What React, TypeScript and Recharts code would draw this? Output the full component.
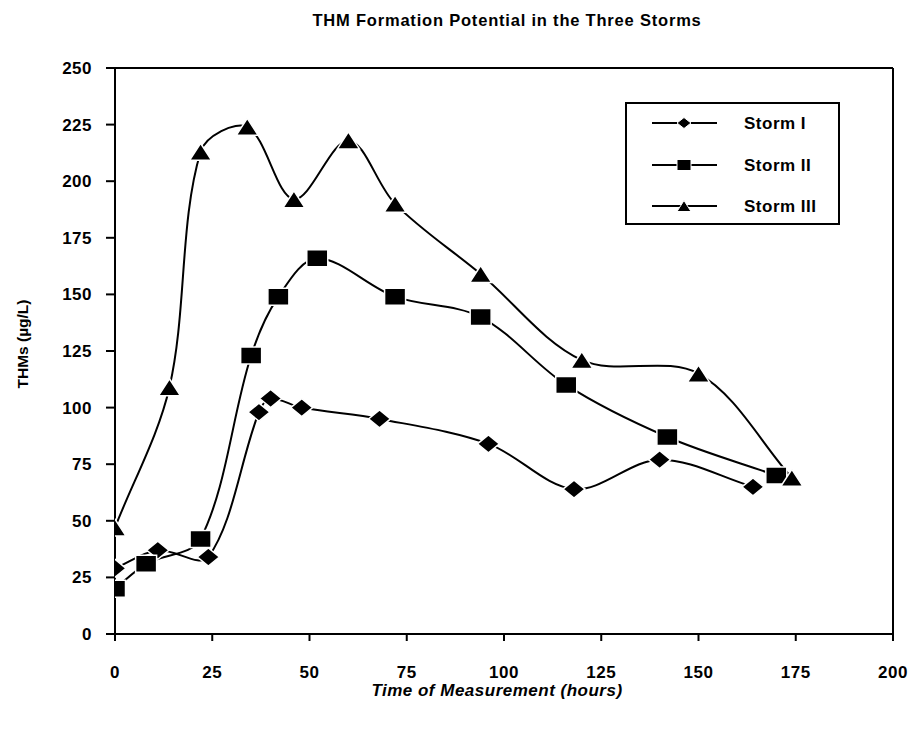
import React from 'react';
import { LineChart, Line, XAxis, YAxis, ReferenceLine } from 'recharts';

const xTicks = [0, 25, 50, 75, 100, 125, 150, 175, 200];
const yTicks = [0, 25, 50, 75, 100, 125, 150, 175, 200, 225, 250];

const storm1X = [0, 11, 24, 37, 40, 48, 68, 96, 118, 140, 164];
const storm1Y = [29, 37, 34, 98, 104, 100, 95, 84, 64, 77, 65];

const storm2X = [0, 8, 22, 35, 42, 52, 72, 94, 116, 142, 170];
const storm2Y = [20, 31, 42, 123, 149, 166, 149, 140, 110, 87, 70];

const storm3X = [0, 14, 22, 34, 46, 60, 72, 94, 120, 150, 174];
const storm3Y = [47, 109, 213, 224, 192, 218, 190, 159, 121, 115, 69];

const seriesNames = ['Storm I', 'Storm II', 'Storm III'];

const zip = (xs: number[], ys: number[]) => xs.map((x, i) => ({ x, y: ys[i] }));
const storm1 = zip(storm1X, storm1Y);
const storm2 = zip(storm2X, storm2Y);
const storm3 = zip(storm3X, storm3Y);

const FONT = '"Liberation Sans", Arial, Helvetica, sans-serif';

// Chord-length weighted smoothing (Excel-like smoothed line, little overshoot)
function smoothCurve(context: any) {
  let pts: number[][] = [];
  const dist = (a: number[], b: number[]) => Math.hypot(b[0] - a[0], b[1] - a[1]) || 1e-6;
  return {
    areaStart() {},
    areaEnd() {},
    lineStart() {
      pts = [];
    },
    point(x: number, y: number) {
      pts.push([+x, +y]);
    },
    lineEnd() {
      const n = pts.length;
      if (n === 0) return;
      context.moveTo(pts[0][0], pts[0][1]);
      if (n === 1) return;
      for (let i = 0; i < n - 1; i++) {
        const p1 = pts[i];
        const p2 = pts[i + 1];
        const p0 = pts[i - 1];
        const p3 = pts[i + 2];
        const d12 = dist(p1, p2);
        let c1x = p1[0] + (p2[0] - p1[0]) / 3;
        let c1y = p1[1] + (p2[1] - p1[1]) / 3;
        if (p0) {
          const d01 = dist(p0, p1);
          const f = d12 / (d01 + d12) / 1.5;
          c1x = p1[0] + (p2[0] - p0[0]) * f / 2;
          c1y = p1[1] + (p2[1] - p0[1]) * f / 2;
        }
        let c2x = p2[0] - (p2[0] - p1[0]) / 3;
        let c2y = p2[1] - (p2[1] - p1[1]) / 3;
        if (p3) {
          const d23 = dist(p2, p3);
          const f = d12 / (d12 + d23) / 1.5;
          c2x = p2[0] - (p3[0] - p1[0]) * f / 2;
          c2y = p2[1] - (p3[1] - p1[1]) * f / 2;
        }
        context.bezierCurveTo(c1x, c1y, c2x, c2y, p2[0], p2[1]);
      }
    },
  };
}

type Shape = 'diamond' | 'square' | 'triangle';

function markerPath(shape: Shape, cx: number, cy: number, w: number, h: number) {
  const hw = w / 2;
  const hh = h / 2;
  if (shape === 'diamond') {
    return `M${cx},${cy - hh}L${cx + hw},${cy}L${cx},${cy + hh}L${cx - hw},${cy}Z`;
  }
  if (shape === 'square') {
    return `M${cx - hw},${cy - hh}L${cx + hw},${cy - hh}L${cx + hw},${cy + hh}L${cx - hw},${cy + hh}Z`;
  }
  return `M${cx},${cy - hh}L${cx + hw},${cy + hh}L${cx - hw},${cy + hh}Z`;
}

const makeDot = (shape: Shape, w: number, h: number) => (props: any) => {
  const { cx, cy, index } = props;
  if (cx == null || cy == null) return <g key={index} />;
  return (
    <path
      key={index}
      d={markerPath(shape, cx, cy, w, h)}
      fill="#000"
      stroke="#fff"
      strokeWidth={1.5}
    />
  );
};

const tickStyle = { fontFamily: FONT, fontWeight: 700, fontSize: 17, fill: '#000', letterSpacing: 0.5 };

export default function App() {
  const legendRows: { name: string; shape: Shape; y: number }[] = [
    { name: seriesNames[0], shape: 'diamond', y: 123 },
    { name: seriesNames[1], shape: 'square', y: 165 },
    { name: seriesNames[2], shape: 'triangle', y: 206 },
  ];
  return (
    <div style={{ position: 'absolute', left: 0, top: 0, width: 916, height: 730, background: '#fff' }}>
      <LineChart
        width={916}
        height={730}
        margin={{ top: 68, right: 23, bottom: 66, left: 55 }}
      >
        <XAxis
          type="number"
          dataKey="x"
          domain={[0, 200]}
          ticks={xTicks}
          allowDataOverflow
          height={30}
          axisLine={{ stroke: '#000', strokeWidth: 2 }}
          tickLine={{ stroke: '#000', strokeWidth: 2 }}
          tickSize={7}
          tickMargin={25}
          tick={tickStyle}
        />
        <YAxis
          type="number"
          dataKey="y"
          domain={[0, 250]}
          ticks={yTicks}
          allowDataOverflow
          width={60}
          axisLine={{ stroke: '#000', strokeWidth: 2 }}
          tickLine={{ stroke: '#000', strokeWidth: 2 }}
          tickSize={9}
          tickMargin={14}
          tick={tickStyle}
        />
        <ReferenceLine y={250} stroke="#000" strokeWidth={2} />
        <ReferenceLine x={200} stroke="#000" strokeWidth={2} />
        <Line
          data={storm1}
          dataKey="y"
          name={seriesNames[0]}
          type={smoothCurve as any}
          stroke="#000"
          strokeWidth={2}
          dot={makeDot('diamond', 22, 18)}
          activeDot={false}
          isAnimationActive={false}
        />
        <Line
          data={storm2}
          dataKey="y"
          name={seriesNames[1]}
          type={smoothCurve as any}
          stroke="#000"
          strokeWidth={2}
          dot={makeDot('square', 21, 17)}
          activeDot={false}
          isAnimationActive={false}
        />
        <Line
          data={storm3}
          dataKey="y"
          name={seriesNames[2]}
          type={smoothCurve as any}
          stroke="#000"
          strokeWidth={2}
          dot={makeDot('triangle', 22, 17)}
          activeDot={false}
          isAnimationActive={false}
        />
      </LineChart>
      <svg
        width={916}
        height={730}
        style={{ position: 'absolute', left: 0, top: 0, pointerEvents: 'none' }}
      >
        <text
          x={507}
          y={26}
          textAnchor="middle"
          fontFamily={FONT}
          fontWeight={700}
          fontSize={16.5}
          letterSpacing={0.8}
        >
          THM Formation Potential in the Three Storms
        </text>
        <text
          x={497}
          y={696}
          textAnchor="middle"
          fontFamily={FONT}
          fontWeight={700}
          fontStyle="italic"
          fontSize={17}
          letterSpacing={0.5}
        >
          Time of Measurement (hours)
        </text>
        <text
          x={28}
          y={344}
          textAnchor="middle"
          fontFamily={FONT}
          fontWeight={700}
          fontSize={15.5}
          transform="rotate(-90 28 344)"
        >
          THMs (µg/L)
        </text>
        <rect x={626} y={103} width={213} height={121} fill="#fff" stroke="#000" strokeWidth={2} />
        {legendRows.map((r) => (
          <g key={r.name}>
            <line x1={652} x2={717} y1={r.y} y2={r.y} stroke="#000" strokeWidth={2} />
            <path d={markerPath(r.shape, 684, r.y, 14, 11)} fill="#000" stroke="#fff" strokeWidth={1} />
            <text
              x={744}
              y={r.y + 6}
              fontFamily={FONT}
              fontWeight={700}
              fontSize={17}
              letterSpacing={0.5}
            >
              {r.name}
            </text>
          </g>
        ))}
      </svg>
    </div>
  );
}
